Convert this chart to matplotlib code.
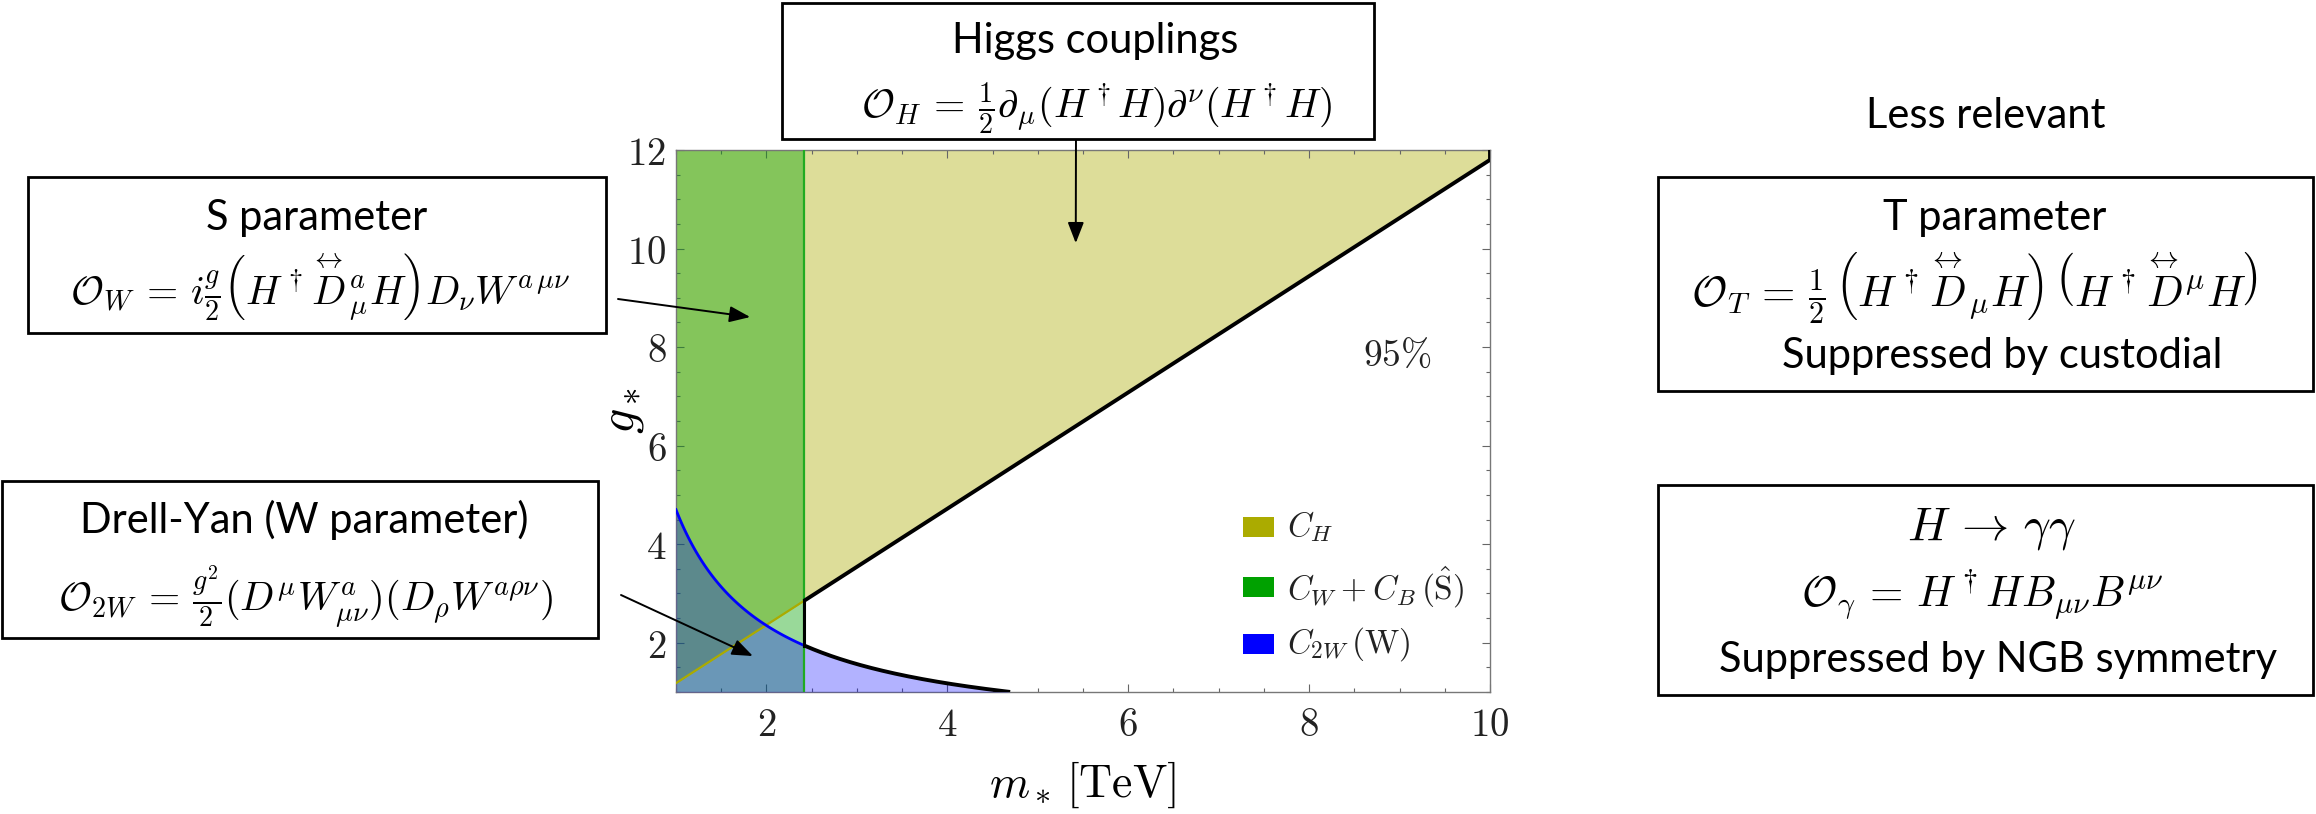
import numpy as np
import matplotlib
matplotlib.use("Agg")
import matplotlib.pyplot as plt
from matplotlib.patches import Rectangle

plt.rcParams['mathtext.fontset'] = 'cm'

# ---- bounds on the (m*, g*) plane -------------------------------------
m_limits = [1.0, 10.0]          # TeV
g_limits = [1.0, 12.0]
m_S_bound = 2.42                # C_W + C_B (S parameter): excluded for m* below this
gm_ratio_H = 1.18               # C_H: excluded for g*/m* above this
c2w_norm = 4.7                  # C_2W (W parameter): excluded for g* < c2w_norm / m*
label_95 = r'$95\%$'

legend_labels = [r'$C_H$', r'$C_W + C_B\,(\hat{\mathrm{S}})$', r'$C_{2W}\,(\mathrm{W})$']
col_H = (0.67, 0.67, 0.0)
col_S = (0.0, 0.63, 0.0)
col_W = (0.0, 0.0, 1.0)
legend_colors = [col_H, col_S, col_W]

x_ticks = [2, 4, 6, 8, 10]
y_ticks = [2, 4, 6, 8, 10, 12]

W, H = 2316, 814
fig = plt.figure(figsize=(W / 100, H / 100), dpi=100)


def fx(px):
    return px / W


def fy(py):
    return 1 - py / H


ax = fig.add_axes([fx(676), fy(692), (1490 - 676) / W, (692 - 150) / H])
ax.set_xlim(*m_limits)
ax.set_ylim(*g_limits)

m = np.linspace(m_limits[0], m_limits[1], 800)
g_H = gm_ratio_H * m
g_W = c2w_norm / m

# filled exclusion regions
ax.fill_between(m, g_H, g_limits[1], color=col_H, alpha=0.4, lw=0, zorder=1)
ax.fill_between([m_limits[0], m_S_bound], g_limits[0], g_limits[1],
                color=col_S, alpha=0.4, lw=0, zorder=2)
ax.fill_between(m, g_limits[0], np.maximum(g_W, g_limits[0]),
                color=col_W, alpha=0.3, lw=0, zorder=3)

# individual bound lines inside the S region
m_in = m[m <= m_S_bound]
ax.plot(m_in, gm_ratio_H * m_in, color=col_H, lw=1.6, zorder=4)
ax.plot(m_in, c2w_norm / m_in, color=col_W, lw=2.0, zorder=4)
ax.axvline(m_S_bound, color=(0.13, 0.67, 0.13), lw=1.6, zorder=4)

# outer boundary of the allowed region
m_tail = m[(m >= m_S_bound) & (c2w_norm / m >= g_limits[0])]
ax.plot(m_tail, c2w_norm / m_tail, color='black', lw=2.8, zorder=5,
        solid_capstyle='butt')
ax.plot([m_S_bound, m_S_bound], [c2w_norm / m_S_bound, gm_ratio_H * m_S_bound],
        color='black', lw=2.2, zorder=5)
m_up = m[m >= m_S_bound]
ax.plot(np.r_[m_up, m_limits[1]], np.r_[gm_ratio_H * m_up, g_limits[1]],
        color='black', lw=2.8, zorder=5)

ax.text(8.98, 7.82, label_95, fontsize=27, ha='center', va='center', color='#222222')

# legend
for i, (lab, c) in enumerate(zip(legend_labels, legend_colors)):
    yc = [0.3044, 0.1937, 0.0886][i]
    ax.add_patch(Rectangle((0.6966, yc - 0.0185), 0.038, 0.037, transform=ax.transAxes,
                           color=c, lw=0, zorder=6))
    ax.text(0.7506, yc, lab, transform=ax.transAxes, fontsize=24, ha='left',
            va='center', color='#222222', zorder=6)

# frame and ticks
ax.set_xticks(x_ticks)
ax.set_yticks(y_ticks)
ax.set_xticks(np.arange(1.0, 10.01, 0.5), minor=True)
ax.set_yticks(np.arange(1.0, 12.01, 0.5), minor=True)
ax.set_xticklabels([r'$%d$' % t for t in x_ticks])
ax.set_yticklabels([r'$%d$' % t for t in y_ticks])
ax.tick_params(which='both', direction='in', top=True, right=True, color='#666666',
               width=0.8, labelsize=28, labelcolor='#222222')
ax.tick_params(which='major', length=6)
ax.tick_params(which='minor', length=3)
ax.tick_params(axis='x', pad=10)
ax.tick_params(axis='y', pad=7)
for s in ax.spines.values():
    s.set_color('#777777')
    s.set_linewidth(1.0)

ax.set_xlabel(r'$m_*\,[\mathrm{TeV}]$', fontsize=33)
ax.set_ylabel(r'$g_*$', fontsize=36)
ax.xaxis.set_label_coords(0.499, -0.125)
ax.yaxis.set_label_coords(-0.037, 0.52)

# ---- annotation boxes -------------------------------------------------
title_font = dict(family='Lato', fontsize=30, color='black')
math_kw = dict(fontsize=29, color='black')


def box(x0, y0, x1, y1):
    fig.add_artist(Rectangle((fx(x0), fy(y1)), (x1 - x0) / W, (y1 - y0) / H,
                             transform=fig.transFigure, fill=True, fc='white',
                             ec='black', lw=2.0, zorder=10))


def ftext(x, y, s, **kw):
    fig.text(fx(x), fy(y), s, ha='center', va='baseline', zorder=11, **kw)


box(782, 3, 1374, 139)
ftext(1095, 53, 'Higgs couplings', **title_font)
ftext(1096, 118, r'$\mathcal{O}_H \,=\, \frac{1}{2}\partial_\mu(H^\dagger H)\partial^\nu(H^\dagger H)$', **math_kw)

box(28, 177, 606, 333)
ftext(317, 230, 'S parameter', **title_font)
ftext(320, 305, r'$\mathcal{O}_W \,=\, i\frac{g}{2}\left(H^\dagger \overset{\leftrightarrow}{D}^{a}_{\mu} H\right) D_\nu W^{a\,\mu\nu}$', **math_kw)

box(2, 481, 598, 638)
ftext(304, 533, 'Drell-Yan (W parameter)', **title_font)
ftext(306, 612, r'$\mathcal{O}_{2W} \,=\, \frac{g^2}{2}(D^\mu W^a_{\mu\nu})(D_\rho W^{a\rho\nu})$', **math_kw)

ftext(1986, 128, 'Less relevant', **title_font)

box(1658, 177, 2313, 391)
ftext(1995, 230, 'T parameter', **title_font)
ftext(1974, 307, r'$\mathcal{O}_T \,=\, \frac{1}{2}\,\left(H^\dagger \overset{\leftrightarrow}{D}_\mu H\right)\,\left(H^\dagger \overset{\leftrightarrow}{D}^\mu H\right)$', fontsize=31, color='black')
ftext(2002, 368, 'Suppressed by custodial', **title_font)

box(1658, 485, 2313, 695)
ftext(1991, 540, r'$H \,\rightarrow\, \gamma\gamma$', fontsize=34, color='black')
ftext(1982, 607, r'$\mathcal{O}_\gamma \,=\, H^\dagger H B_{\mu\nu} B^{\mu\nu}$', fontsize=31, color='black')
ftext(1998, 672, 'Suppressed by NGB symmetry', **title_font)

# arrows from the boxes into the plot
arrow_kw = dict(arrowstyle='-|>,head_length=0.9,head_width=0.35', color='black',
                lw=1.4, shrinkA=0, shrinkB=0, mutation_scale=14)
ax.annotate('', xy=(5.42, 10.11), xycoords='data', xytext=(fx(1076), fy(126)),
            textcoords='figure fraction', arrowprops=arrow_kw, zorder=12)
ax.annotate('', xy=(1.82, 8.61), xycoords='data', xytext=(fx(618), fy(299)),
            textcoords='figure fraction', arrowprops=arrow_kw, zorder=12)
ax.annotate('', xy=(1.85, 1.73), xycoords='data', xytext=(fx(621), fy(595)),
            textcoords='figure fraction', arrowprops=arrow_kw, zorder=12)

fig.savefig('out.png', dpi=100, facecolor='white')
